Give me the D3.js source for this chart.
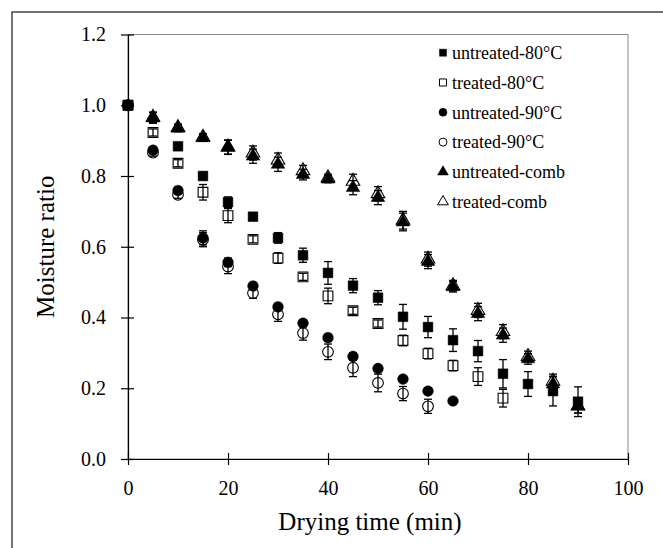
<!DOCTYPE html>
<html>
<head>
  <meta charset="utf-8">
  <title>Moisture ratio</title>
  <script src="https://cdn.jsdelivr.net/npm/d3@7"></script>
  <style>
    body { margin: 0; background: #fff; }
    text { font-family: "Liberation Serif", "Times New Roman", serif; fill: #000; }
  </style>
</head>
<body>
<svg width="663" height="548"></svg>
<script>
// drying time (min)
const times = [0, 5, 10, 15, 20, 25, 30, 35, 40, 45, 50, 55, 60, 65, 70, 75, 80, 85, 90];
const xTicks = [0, 20, 40, 60, 80, 100];
const yTicks = [0, 0.2, 0.4, 0.6, 0.8, 1.0, 1.2];

// moisture ratio per series (null = no point), and half error bars
const untreated80 = [1.0, null, 0.884, 0.80, 0.726, 0.685, 0.625, 0.576, 0.526, 0.49, 0.456, 0.402, 0.373, 0.336, 0.305, 0.241, 0.212, 0.192, 0.162];
const untreated80Err = [0, 0, 0.01, 0.01, 0.015, 0.01, 0.015, 0.02, 0.032, 0.02, 0.02, 0.035, 0.03, 0.032, 0.03, 0.04, 0.035, 0.042, 0.042];
const treated80 = [1.0, 0.923, 0.836, 0.754, 0.688, 0.621, 0.568, 0.515, 0.461, 0.419, 0.383, 0.335, 0.298, 0.264, 0.233, 0.172, null, null, null];
const treated80Err = [0, 0.01, 0.01, 0.022, 0.02, 0.01, 0.015, 0.01, 0.022, 0.01, 0.01, 0.015, 0.015, 0.015, 0.025, 0.025, 0, 0, 0];
const untreated90 = [1.0, 0.873, 0.759, 0.625, 0.556, 0.489, 0.43, 0.384, 0.343, 0.29, 0.256, 0.226, 0.192, 0.164, null, null, null, null, null];
const untreated90Err = [0, 0.01, 0.01, 0.02, 0.012, 0.01, 0.01, 0.01, 0.01, 0.01, 0.008, 0.008, 0.008, 0.008, 0, 0, 0, 0, 0];
const treated90 = [1.0, 0.866, 0.747, 0.62, 0.544, 0.469, 0.409, 0.356, 0.303, 0.258, 0.215, 0.185, 0.149, null, null, null, null, null, null];
const treated90Err = [0, 0.01, 0.01, 0.02, 0.02, 0.015, 0.02, 0.02, 0.022, 0.025, 0.025, 0.02, 0.02, 0, 0, 0, 0, 0, 0];
const untreatedComb = [null, 0.964, 0.935, 0.908, 0.881, 0.856, 0.833, 0.804, 0.791, 0.767, 0.739, 0.67, 0.558, 0.487, 0.411, 0.35, 0.283, 0.212, 0.15];
const untreatedCombErr = [0, 0.015, 0.01, 0.01, 0.02, 0.02, 0.02, 0.015, 0.01, 0.02, 0.02, 0.025, 0.02, 0.015, 0.02, 0.02, 0.015, 0.02, 0.02];
const treatedComb = [null, 0.966, 0.937, 0.91, 0.882, 0.865, 0.845, 0.815, 0.795, 0.785, 0.75, 0.675, 0.565, 0.49, 0.42, 0.36, 0.29, 0.22, 0.15];
const treatedCombErr = [0, 0.015, 0.01, 0.01, 0.02, 0.02, 0.02, 0.015, 0.01, 0.02, 0.02, 0.025, 0.02, 0.015, 0.02, 0.02, 0.015, 0.02, 0.02];

const seriesNames = ['untreated-80°C', 'treated-80°C', 'untreated-90°C', 'treated-90°C', 'untreated-comb', 'treated-comb'];
const seriesValues = [untreated80, treated80, untreated90, treated90, untreatedComb, treatedComb];
const seriesErrors = [untreated80Err, treated80Err, untreated90Err, treated90Err, untreatedCombErr, treatedCombErr];
const seriesShapes = [d3.symbolSquare, d3.symbolSquare, d3.symbolCircle, d3.symbolCircle, d3.symbolTriangle, d3.symbolTriangle];
const seriesFilled = [true, false, true, false, true, false];

const svg = d3.select('svg');

// outer frame (only top and left edges fall inside the picture)
svg.append('rect')
    .attr('x', 12).attr('y', 12)
    .attr('width', 700).attr('height', 600)
    .attr('fill', '#fff')
    .attr('stroke', '#444')
    .attr('stroke-width', 1.5);

const x = d3.scaleLinear().domain([0, 100]).range([128, 628]);
const y = d3.scaleLinear().domain([0, 1.2]).range([459, 34.5]);

// plot area border
svg.append('rect')
    .attr('x', x(0)).attr('y', y(1.2))
    .attr('width', x(100) - x(0)).attr('height', y(0) - y(1.2))
    .attr('fill', 'none')
    .attr('stroke', '#888')
    .attr('stroke-width', 1);

const xAxis = svg.append('g')
    .attr('transform', `translate(0,${y(0)})`)
    .call(d3.axisBottom(x).tickValues(xTicks).tickSize(6).tickPadding(16).tickSizeOuter(0));
xAxis.selectAll('.tick line').attr('y1', -6);

const yAxis = svg.append('g')
    .attr('transform', `translate(${x(0)},0)`)
    .call(d3.axisLeft(y).tickValues(yTicks).tickFormat(d3.format('.1f')).tickSize(7).tickPadding(15).tickSizeOuter(0));
yAxis.selectAll('.tick line').attr('x1', 6);

svg.selectAll('.domain').attr('stroke', '#000').attr('stroke-width', 1.2);
svg.selectAll('.tick line').attr('stroke', '#000').attr('stroke-width', 1.2);
svg.selectAll('.tick text')
    .style('font-family', '"Liberation Serif", serif')
    .style('font-size', '20px')
    .attr('fill', '#000');

svg.append('text')
    .attr('x', 370).attr('y', 530)
    .attr('text-anchor', 'middle')
    .style('font-size', '25px')
    .text('Drying time (min)');

svg.append('text')
    .attr('transform', `translate(54,${(y(0) + y(1.2)) / 2}) rotate(-90)`)
    .attr('text-anchor', 'middle')
    .style('font-size', '25px')
    .text('Moisture ratio');

const symbolSize = [95, 95, 90, 90, 80, 80];

seriesValues.forEach((vals, i) => {
    const pts = times.map((t, j) => ({ t: t, v: vals[j], e: seriesErrors[i][j] }))
        .filter(d => d.v !== null);
    const g = svg.append('g');

    const eb = g.selectAll('g.err').data(pts.filter(d => d.e > 0)).enter().append('g')
        .attr('stroke', '#000').attr('stroke-width', 1.3);
    eb.append('line')
        .attr('x1', d => x(d.t)).attr('x2', d => x(d.t))
        .attr('y1', d => y(d.v - d.e)).attr('y2', d => y(d.v + d.e));
    eb.append('line')
        .attr('x1', d => x(d.t) - 4).attr('x2', d => x(d.t) + 4)
        .attr('y1', d => y(d.v - d.e)).attr('y2', d => y(d.v - d.e));
    eb.append('line')
        .attr('x1', d => x(d.t) - 4).attr('x2', d => x(d.t) + 4)
        .attr('y1', d => y(d.v + d.e)).attr('y2', d => y(d.v + d.e));

    g.selectAll('path.pt').data(pts).enter().append('path')
        .attr('transform', d => `translate(${x(d.t)},${y(d.v)})`)
        .attr('d', d3.symbol().type(seriesShapes[i]).size(symbolSize[i]))
        .attr('fill', seriesFilled[i] ? '#000' : 'none')
        .attr('stroke', '#000')
        .attr('stroke-width', seriesFilled[i] ? 0.5 : 1.1);
});

// legend
const legend = svg.append('g');
seriesNames.forEach((name, i) => {
    const ly = 52.7 + i * 29.8;
    legend.append('path')
        .attr('transform', `translate(443,${ly})`)
        .attr('d', d3.symbol().type(seriesShapes[i]).size(50))
        .attr('fill', seriesFilled[i] ? '#000' : '#fff')
        .attr('stroke', '#000')
        .attr('stroke-width', seriesFilled[i] ? 0.5 : 1);
    legend.append('text')
        .attr('x', 452).attr('y', ly)
        .attr('dy', '0.35em')
        .style('font-size', '18px')
        .text(name);
});
</script>
</body>
</html>
